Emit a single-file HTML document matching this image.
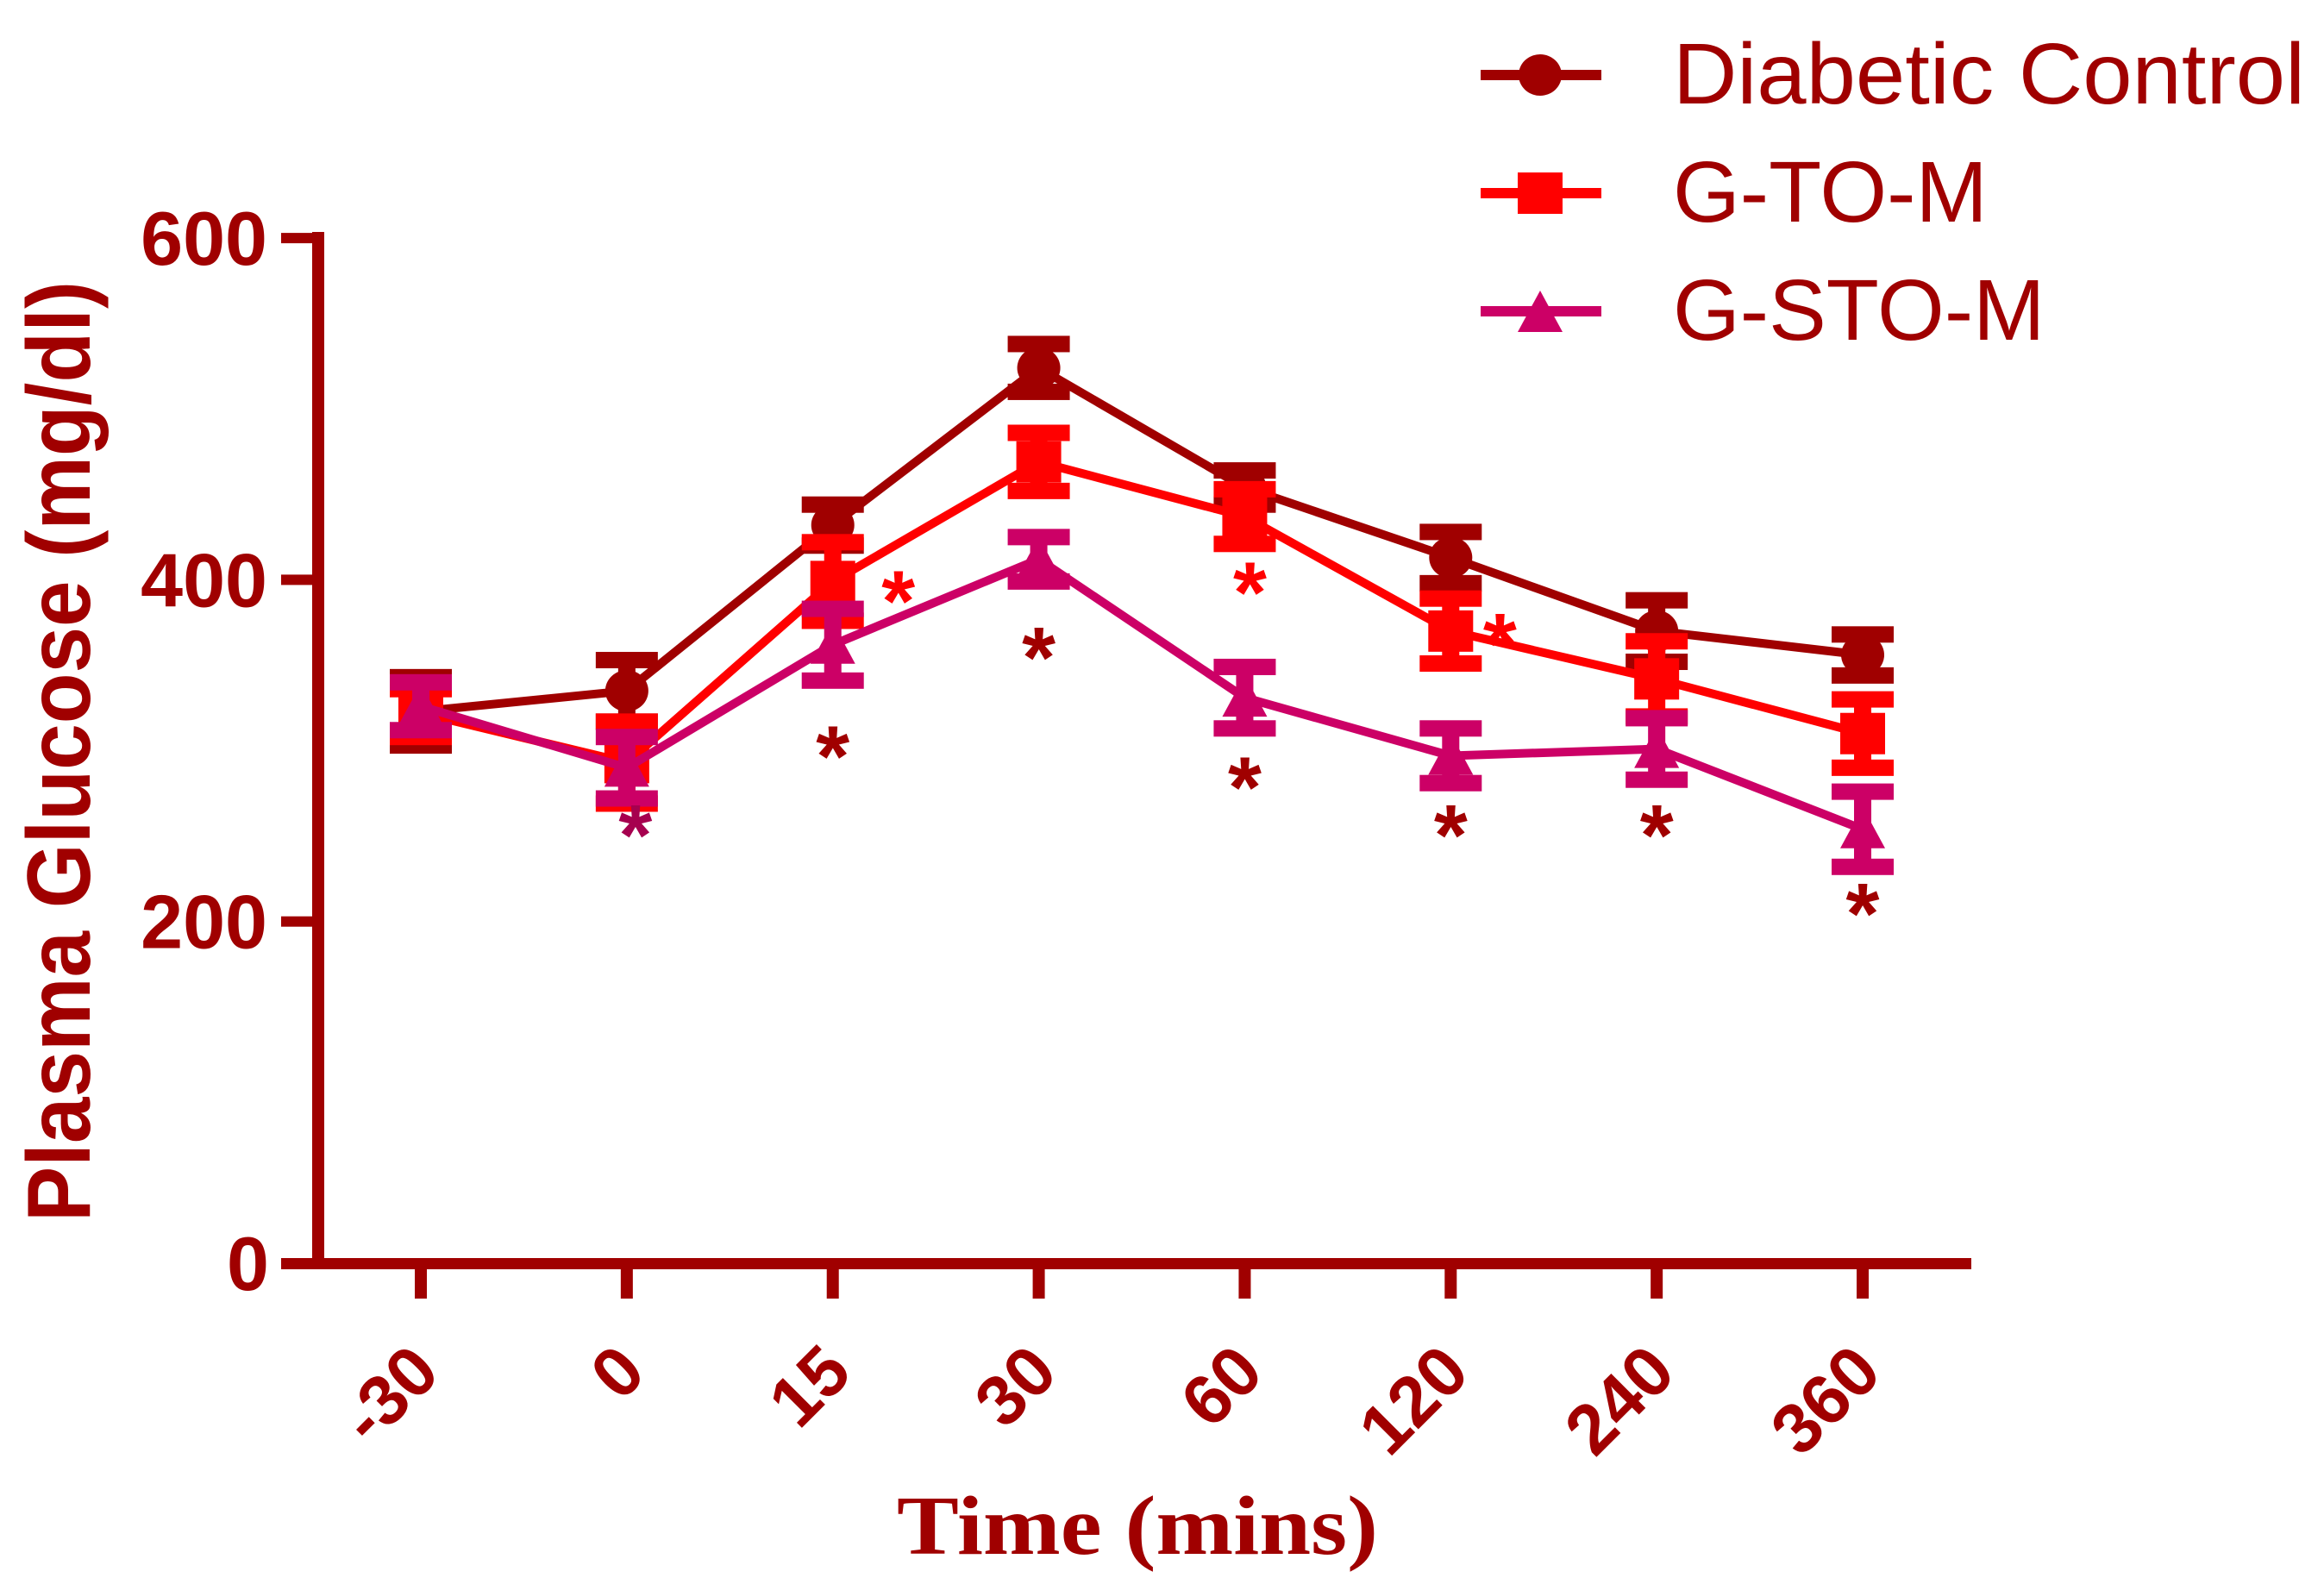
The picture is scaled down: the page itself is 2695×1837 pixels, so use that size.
<!DOCTYPE html>
<html>
<head>
<meta charset="utf-8">
<style>
html,body{margin:0;padding:0;background:#fff;}
svg{display:block;}
</style>
</head>
<body>
<svg id="chart" width="2695" height="1837" viewBox="0 0 2695 1837" xmlns="http://www.w3.org/2000/svg">
  <g id="series-layer"></g>
  <g id="axes-layer"></g>
  <g id="legend">
    <g>
      <line x1="1717" y1="87" x2="1857" y2="87" stroke="#a00000" stroke-width="12"/>
      <ellipse cx="1786" cy="87" rx="25" ry="24" fill="#a00000"/>
      <text x="1940" y="120" font-family="Liberation Sans, sans-serif" font-size="100" fill="#a00000" textLength="733" lengthAdjust="spacingAndGlyphs">Diabetic Control</text>
    </g>
    <g>
      <line x1="1717" y1="224" x2="1857" y2="224" stroke="#ff0000" stroke-width="12"/>
      <rect x="1760" y="200" width="52" height="48" fill="#ff0000"/>
      <text x="1940" y="257" font-family="Liberation Sans, sans-serif" font-size="100" fill="#a00000">G-TO-M</text>
    </g>
    <g>
      <line x1="1717" y1="361" x2="1857" y2="361" stroke="#cc0066" stroke-width="12"/>
      <polygon points="1786,337 1812,385 1760,385" fill="#cc0066"/>
      <text x="1940" y="394" font-family="Liberation Sans, sans-serif" font-size="100" fill="#a00000">G-STO-M</text>
    </g>
  </g>
  <text transform="translate(104,1417) rotate(-90)" font-family="Liberation Sans, sans-serif" font-weight="bold" font-size="104" fill="#a00000" textLength="1091" lengthAdjust="spacingAndGlyphs">Plasma Glucose (mg/dl)</text>
  <text x="1040" y="1802" font-family="Liberation Serif, serif" font-weight="bold" font-size="98" fill="#a00000" textLength="558" lengthAdjust="spacingAndGlyphs">Time (mins)</text>
</svg>
<script>
const categories = ['-30','0','15','30','60','120','240','360'];
const yTicks = [0, 200, 400, 600];
const dcValues = [323, 335, 432, 524, 454, 413, 370, 356];
const dcErrors = [20, 18, 12, 14, 10, 15, 18, 12];
const gtoValues = [322, 293, 399, 469, 437, 370, 342, 310];
const gtoErrors = [14, 24, 23, 17, 16, 19, 22, 20];
const gstoValues = [326, 290, 362, 412, 331, 297, 301, 254];
const gstoErrors = [14, 18, 21, 13, 18, 16, 18, 22];
// significance markers: category index, value at star centre, series
const starCats = [2, 4, 5, 2, 3, 4, 5, 6, 7, 1];
const starValues = [398, 403, 373, 307, 365, 289, 261, 261, 215, 261];
const starSeries = ['gto','gto','gto','dc','dc','dc','dc','dc','dc','gsto'];

const NS = 'http://www.w3.org/2000/svg';
const X0 = 488, XSTEP = 238.86;
const Y0 = 1465, YPER = 1.9815;
function xPos(i){ return X0 + i * XSTEP; }
function yPos(v){ return Y0 - v * YPER; }
function mk(tag, attrs, parent){
  const e = document.createElementNS(NS, tag);
  for (const k in attrs) e.setAttribute(k, attrs[k]);
  parent.appendChild(e);
  return e;
}
const colors = {dc:'#a00000', gto:'#ff0000', gsto:'#cc0066'};
const starColors = {dc:'#a00000', gto:'#ff0000', gsto:'#a6004f'};
const sl = document.getElementById('series-layer');
const ax = document.getElementById('axes-layer');

function drawSeries(key, vals, errs, shape){
  const g = mk('g', {}, sl);
  
  
  const pts = vals.map((v,i)=> xPos(i) + ',' + yPos(v)).join(' ');
  const pl = mk('polyline', {points: pts, fill:'none', stroke: colors[key], 'stroke-width': 10, 'stroke-linejoin':'miter'}, g);
  
  
  vals.forEach((v,i)=>{
    const x = xPos(i), yt = yPos(v + errs[i]), yb = yPos(v - errs[i]);
    const eb = mk('g', {fill: colors[key]}, g);
    
    
    mk('rect', {x: x-10, y: yt, width: 20, height: yb-yt}, eb);
    mk('rect', {x: x-36, y: yt-9.5, width: 72, height: 19}, eb);
    mk('rect', {x: x-36, y: yb-9.5, width: 72, height: 19}, eb);
    const y = yPos(v);
    let m;
    if (shape === 'circle') m = mk('ellipse', {cx: x, cy: y, rx: 25, ry: 24, fill: colors[key]}, g);
    else if (shape === 'square') m = mk('rect', {x: x-26, y: y-24, width: 52, height: 48, fill: colors[key]}, g);
    else m = mk('polygon', {points: (x)+','+(y-26)+' '+(x+26)+','+(y+22)+' '+(x-26)+','+(y+22), fill: colors[key]}, g);
    
    
  });
}
drawSeries('dc', dcValues, dcErrors, 'circle');
drawSeries('gto', gtoValues, gtoErrors, 'square');
drawSeries('gsto', gstoValues, gstoErrors, 'triangle');

starCats.forEach((c,i)=>{
  let off = 0;
  if (starSeries[i] === 'gto' && c === 2) off = 76;
  if (starSeries[i] === 'gto' && c === 5) off = 57;
  if (starSeries[i] === 'gto' && c === 4) off = 6;
  if (starSeries[i] === 'gsto') off = 10;
  const t = mk('text', {x: xPos(c) + off, y: yPos(starValues[i]) + 55, 'text-anchor':'middle', 'font-family':'Liberation Sans, sans-serif', 'font-weight':'bold', 'font-size': 100, fill: starColors[starSeries[i]]}, sl);
  t.textContent = '*';
  
  
});

// axes
const yAxis = mk('rect', {x: 362, y: 269, width: 14, height: 1203, fill:'#a00000'}, ax);


const xAxis = mk('rect', {x: 326, y: 1459, width: 1960, height: 13, fill:'#a00000'}, ax);


yTicks.forEach(v=>{
  const y = yPos(v);
  const tk = mk('rect', {x: 326, y: y-6, width: 40, height: 12, fill:'#a00000'}, ax);
  
  
  const lb = mk('text', {x: v === 0 ? 312 : 310, y: y + 31, 'text-anchor':'end', 'font-family':'Liberation Sans, sans-serif', 'font-weight':'bold', 'font-size': 88, fill:'#a00000'}, ax);
  lb.textContent = String(v);
  
  
});
categories.forEach((c,i)=>{
  const x = xPos(i);
  const tk = mk('rect', {x: x-7, y: 1466, width: 14, height: 40, fill:'#a00000'}, ax);
  
  
  const lb = mk('text', {transform: 'translate(' + (x+25) + ',1595) rotate(-45)', 'text-anchor':'end', 'font-family':'Liberation Sans, sans-serif', 'font-weight':'bold', 'font-size': 82, fill:'#a00000'}, ax);
  lb.textContent = c;
  
  
});
</script>
</body>
</html>
